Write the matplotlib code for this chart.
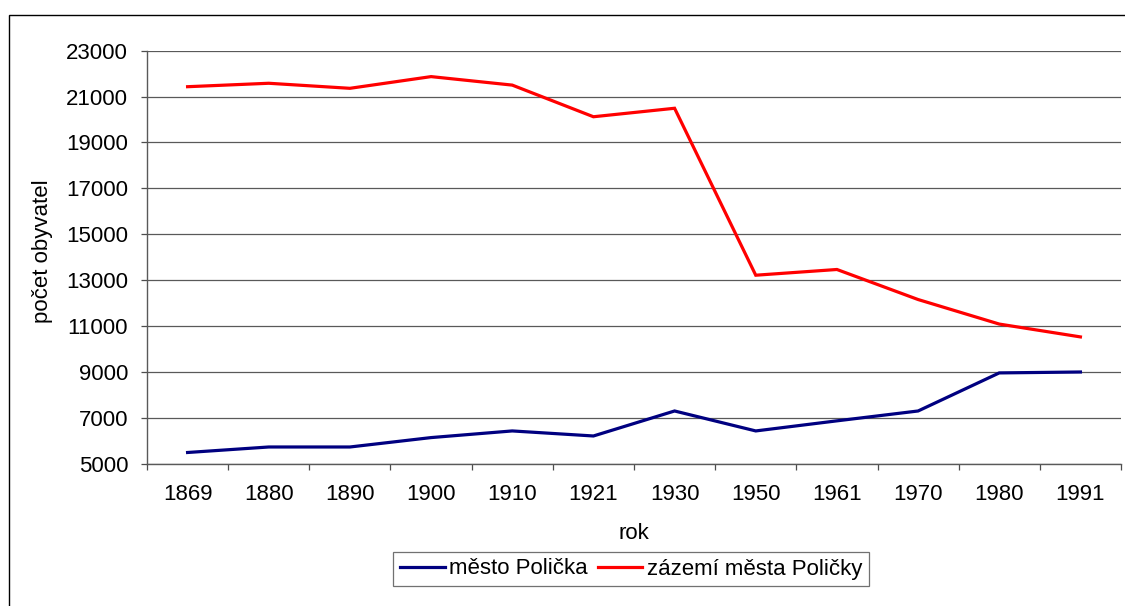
import numpy as np
import matplotlib
matplotlib.use("Agg")
import matplotlib.pyplot as plt
from matplotlib.patches import Rectangle
from matplotlib.ticker import FixedLocator

plt.rcParams["font.family"] = ["Liberation Sans", "DejaVu Sans"]

YEARS = ["1869", "1880", "1890", "1900", "1910", "1921",
         "1930", "1950", "1961", "1970", "1980", "1991"]
MESTO = [5480, 5720, 5720, 6130, 6420, 6200,
         7290, 6420, 6860, 7290, 8950, 8990]
ZAZEMI = [21430, 21580, 21360, 21870, 21500, 20120,
          20490, 13210, 13460, 12150, 11080, 10520]
YTICKS = list(range(5000, 23001, 2000))

FS = 16
W, H = 1125, 606
fig = plt.figure(figsize=(W / 100, H / 100), dpi=100)
ax = fig.add_axes([147 / W, 1 - 463.5 / H, (1121 - 147) / W, (463.5 - 50.7) / H])

x = np.arange(len(YEARS))
ax.plot(x, MESTO, color="#000080", lw=2.3, label="město Polička", solid_joinstyle="miter")
ax.plot(x, ZAZEMI, color="#ff0000", lw=2.3, label="zázemí města Poličky", solid_joinstyle="miter")

ax.set_xlim(-0.5, len(YEARS) - 0.5)
ax.set_ylim(5000, 23000)
ax.set_yticks(YTICKS)
ax.set_xticks(x)
ax.set_xticklabels(YEARS)
ax.xaxis.set_minor_locator(FixedLocator(np.arange(len(YEARS) + 1) - 0.5))
ax.tick_params(axis="x", which="major", length=0, pad=15, labelsize=FS)
ax.tick_params(axis="x", which="minor", length=4.5, width=0.9, color="0.3", direction="out")
ax.tick_params(axis="y", length=4.5, width=0.9, color="0.3", pad=9, labelsize=FS)

ax.grid(axis="y", color="0.35", lw=0.9)
ax.set_axisbelow(True)
for s in ["top", "right"]:
    ax.spines[s].set_visible(False)
for s in ["left", "bottom"]:
    ax.spines[s].set_color("0.35")
    ax.spines[s].set_linewidth(1.0)

ax.set_xlabel("rok", fontsize=FS, labelpad=13)
ax.set_ylabel("počet obyvatel", fontsize=FS)
ax.yaxis.set_label_coords(-0.0965, 0.515)

leg = fig.legend(loc="center", bbox_to_anchor=(631 / W, 1 - 569 / H), ncol=2,
                 fontsize=FS, frameon=True, fancybox=False, handlelength=2.0,
                 handletextpad=0.2, columnspacing=0.45, borderpad=0.3)
leg.get_frame().set_edgecolor("0.3")
leg.get_frame().set_linewidth(0.9)

fig.add_artist(Rectangle((9 / W, -0.1), 2, 1 - 15 / H + 0.1, transform=fig.transFigure,
                         fill=False, ec="black", lw=1.0))

fig.savefig("out.png", dpi=100)
